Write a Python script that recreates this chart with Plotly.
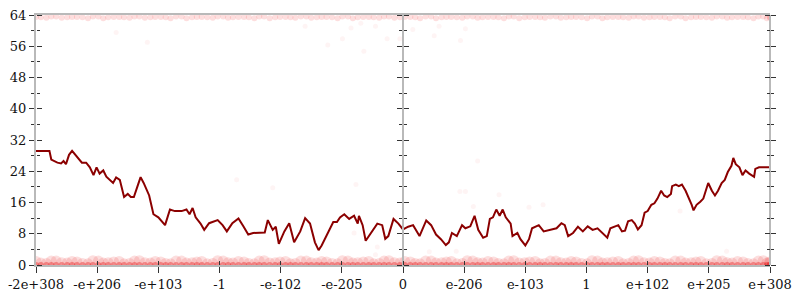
import plotly.graph_objects as go

# Tick positions (transformed scale) and labels
x_tickvals = [-6, -5, -4, -3, -2, -1, 0, 1, 2, 3, 4, 5, 6]
x_ticktext = ["-2e+308", "-e+206", "-e+103", "-1", "-e-102", "-e-205", "0",
              "e-206", "e-103", "1", "e+102", "e+205", "e+308"]
y_tickvals = [0, 8, 16, 24, 32, 40, 48, 56, 64]
y_minorvals = [4, 12, 20, 28, 36, 44, 52, 60]

# Main line (dark red)
line_x = [-6.0, -5.78, -5.75, -5.70, -5.65, -5.59, -5.55, -5.51, -5.46, -5.41, -5.36, -5.30,
          -5.25, -5.18, -5.12, -5.06, -5.01, -4.96, -4.90, -4.85, -4.74, -4.69, -4.63, -4.56,
          -4.50, -4.45, -4.40, -4.34, -4.29, -4.24, -4.15, -4.08, -4.0, -3.89, -3.81, -3.73,
          -3.62, -3.54, -3.49, -3.44, -3.39, -3.31, -3.25,
          -3.17, -3.03, -2.95, -2.88, -2.79, -2.69, -2.61, -2.53, -2.45, -2.26, -2.21, -2.13,
          -2.08, -2.03, -1.94, -1.86, -1.78, -1.68, -1.60, -1.52, -1.44, -1.38, -1.33, -1.22,
          -1.14, -1.08, -1.03, -0.96, -0.88, -0.80, -0.74, -0.72, -0.66, -0.61, -0.53, -0.42,
          -0.34, -0.29, -0.24, -0.155, -0.075, 0.0,
          0.085, 0.165, 0.27, 0.38, 0.46, 0.54, 0.62, 0.70, 0.75, 0.80, 0.88, 0.965, 1.02,
          1.10, 1.17, 1.23, 1.31, 1.37, 1.42, 1.47, 1.525, 1.58, 1.63, 1.68, 1.76, 1.79, 1.87,
          1.92, 2.0, 2.06, 2.11, 2.22, 2.30, 2.40, 2.51, 2.59, 2.645, 2.70, 2.78, 2.86, 2.94,
          3.02, 3.10, 3.18, 3.26, 3.34, 3.39, 3.47,
          3.52, 3.58, 3.63, 3.68, 3.74, 3.79, 3.84, 3.90, 3.95, 4.0, 4.06, 4.11, 4.16, 4.22,
          4.27, 4.32, 4.38, 4.40, 4.46, 4.51, 4.56, 4.62, 4.67, 4.72, 4.75, 4.80, 4.86, 4.91,
          4.99, 5.05, 5.10, 5.15, 5.21, 5.26, 5.31, 5.37, 5.40, 5.44, 5.50, 5.55, 5.60, 5.66,
          5.74, 5.76, 5.82, 6.0]
line_y = [29.2, 29.2, 27.0, 26.6, 26.2, 26.0, 26.6, 25.8, 28.2, 29.2, 28.2, 27.0,
          26.2, 26.2, 25.0, 23.0, 25.0, 23.4, 24.2, 22.6, 21.0, 22.4, 21.8, 17.4,
          18.2, 17.4, 17.4, 20.2, 22.5, 21.0, 17.8, 13.0, 12.2, 10.2, 14.2, 13.8,
          13.8, 14.2, 13.0, 14.6, 12.2, 10.6, 9.0,
          10.7, 11.5, 10.2, 8.6, 10.7, 11.9, 9.9, 7.8, 8.2, 8.3, 11.5, 9.0,
          9.8, 5.4, 8.6, 10.7, 5.8, 8.6, 12.0, 10.6, 5.8, 3.8, 5.0, 8.6,
          11.0, 11.0, 12.2, 13.0, 11.8, 12.6, 10.6, 12.6, 10.2, 6.2, 8.2, 10.6,
          10.2, 6.7, 7.4, 11.8, 10.6, 9.1,
          9.8, 10.2, 7.4, 11.4, 10.2, 7.8, 6.6, 5.1, 5.8, 8.2, 7.4, 10.2, 9.4,
          9.9, 12.6, 9.0, 7.0, 7.4, 11.8, 12.2, 14.2, 12.6, 14.2, 12.2, 10.6, 7.4, 8.2,
          6.6, 5.0, 6.6, 9.4, 10.2, 8.6, 9.0, 9.4, 10.7, 10.2, 7.4, 8.2, 9.8, 8.6,
          9.9, 9.0, 9.4, 8.2, 7.0, 9.4, 9.8,
          10.2, 8.6, 8.8, 11.2, 11.5, 10.6, 9.1, 10.2, 13.4, 13.8, 15.4, 15.8, 17.0, 19.0,
          17.8, 17.4, 18.2, 20.2, 20.6, 20.2, 20.6, 19.0, 17.4, 15.4, 14.0, 15.4, 16.2, 17.0,
          21.0, 19.0, 17.8, 19.0, 21.0, 21.8, 23.8, 25.4, 27.4, 25.8, 25.0, 23.0, 24.2, 23.4,
          22.6, 24.6, 25.0, 25.0]

# Dense bands of samples near the bottom (y ~ 0..1) and top (y ~ 63.5)
band_x_a = [-6.0, -5.83, -5.67, -5.49, -5.33, -5.15, -4.98, -4.82, -4.64, -4.47, -4.31, -4.13,
            -3.96, -3.8, -3.62, -3.45, -3.29, -3.11, -2.94, -2.78, -2.6, -2.43, -2.27, -2.09,
            -1.92, -1.76, -1.58, -1.41, -1.25, -1.07, -0.9, -0.74, -0.56, -0.39, -0.23, -0.05,
            0.12, 0.28, 0.46, 0.63, 0.79, 0.97, 1.14, 1.3, 1.48, 1.65, 1.81, 1.99, 2.16, 2.32,
            2.5, 2.67, 2.83, 3.01, 3.18, 3.34, 3.52, 3.69, 3.85, 4.03, 4.2, 4.36, 4.54, 4.71,
            4.87, 5.05, 5.22, 5.38, 5.56, 5.73, 5.89, 6.0]
band_x_b = [-5.92, -5.75, -5.58, -5.41, -5.24, -5.07, -4.9, -4.73, -4.56, -4.39, -4.22, -4.05,
            -3.88, -3.71, -3.54, -3.37, -3.2, -3.03, -2.86, -2.69, -2.52, -2.35, -2.18, -2.01,
            -1.84, -1.67, -1.5, -1.33, -1.16, -0.99, -0.82, -0.65, -0.48, -0.31, -0.14, 0.03,
            0.2, 0.37, 0.54, 0.71, 0.88, 1.05, 1.22, 1.39, 1.56, 1.73, 1.9, 2.07, 2.24, 2.41,
            2.58, 2.75, 2.92, 3.09, 3.26, 3.43, 3.6, 3.77, 3.94, 4.11, 4.28, 4.45, 4.62, 4.79,
            4.96, 5.13, 5.3, 5.47, 5.64, 5.81, 5.95, 5.99]
band_low_y_a = [0.9, 0.4, 1.0, 0.5, 0.8, 0.3, 1.0, 0.6, 0.9, 0.4, 1.1, 0.5,
                0.8, 0.3, 1.0, 0.6, 0.9, 0.4, 1.0, 0.5, 0.8, 0.3, 1.1, 0.6,
                0.9, 0.4, 1.0, 0.5, 0.8, 0.3, 1.0, 0.6, 0.9, 0.4, 1.1, 0.5,
                0.8, 0.3, 1.0, 0.6, 0.9, 0.4, 1.0, 0.5, 0.8, 0.3, 1.1, 0.6,
                0.9, 0.4, 1.0, 0.5, 0.8, 0.3, 1.0, 0.6, 0.9, 0.4, 1.1, 0.5,
                0.8, 0.3, 1.0, 0.6, 0.9, 0.4, 1.0, 0.5, 0.8, 0.3, 1.1, 0.6]
band_low_y_b = [0.5, 1.0, 0.6, 0.9, 0.4, 1.1, 0.5, 0.8, 0.3, 1.0, 0.6, 0.9,
                0.4, 1.0, 0.5, 0.8, 0.3, 1.1, 0.6, 0.9, 0.4, 1.0, 0.5, 0.8,
                0.3, 1.0, 0.6, 0.9, 0.4, 1.1, 0.5, 0.8, 0.3, 1.0, 0.6, 0.9,
                0.4, 1.0, 0.5, 0.8, 0.3, 1.1, 0.6, 0.9, 0.4, 1.0, 0.5, 0.8,
                0.3, 1.0, 0.6, 0.9, 0.4, 1.1, 0.5, 0.8, 0.3, 1.0, 0.6, 0.9,
                0.4, 1.0, 0.5, 0.8, 0.3, 1.1, 0.6, 0.9, 0.4, 1.0, 0.5, 0.8]
band_zero_y = [0.0] * 72
band_top_y_a = [63.5, 63.3, 63.6, 63.4, 63.5, 63.2, 63.6, 63.4, 63.5, 63.3, 63.6, 63.4,
                63.5, 63.2, 63.6, 63.4, 63.5, 63.3, 63.6, 63.4, 63.5, 63.2, 63.6, 63.4,
                63.5, 63.3, 63.6, 63.4, 63.5, 63.2, 63.6, 63.4, 63.5, 63.3, 63.6, 63.4,
                63.5, 63.2, 63.6, 63.4, 63.5, 63.3, 63.6, 63.4, 63.5, 63.2, 63.6, 63.4,
                63.5, 63.3, 63.6, 63.4, 63.5, 63.2, 63.6, 63.4, 63.5, 63.3, 63.6, 63.4,
                63.5, 63.2, 63.6, 63.4, 63.5, 63.3, 63.6, 63.4, 63.5, 63.2, 63.6, 63.4]
band_top_y_b = [63.4, 63.6, 63.3, 63.5, 63.4, 63.6, 63.2, 63.5, 63.4, 63.6, 63.3, 63.5,
                63.4, 63.6, 63.2, 63.5, 63.4, 63.6, 63.3, 63.5, 63.4, 63.6, 63.2, 63.5,
                63.4, 63.6, 63.3, 63.5, 63.4, 63.6, 63.2, 63.5, 63.4, 63.6, 63.3, 63.5,
                63.4, 63.6, 63.2, 63.5, 63.4, 63.6, 63.3, 63.5, 63.4, 63.6, 63.2, 63.5,
                63.4, 63.6, 63.3, 63.5, 63.4, 63.6, 63.2, 63.5, 63.4, 63.6, 63.3, 63.5,
                63.4, 63.6, 63.2, 63.5, 63.4, 63.6, 63.3, 63.5, 63.4, 63.6, 63.2, 63.5]

# Sparse faint samples
sparse_x = [-4.69, -4.18, -1.6, -0.99, -1.23, -0.64, -0.26, -0.05, 0.51, 0.94, -0.85, -0.69,
            -0.45, 0.16, 0.59, 1.02, -2.72, -2.13, -0.77, -0.8, -0.42, -0.45, 1.22, 0.93, 1.02,
            1.57, 1.15, 2.06, 2.29, 0.43, 0.87, 4.53, 5.29]
sparse_y = [59.5, 57.0, 61.1, 57.9, 56.3, 54.7, 57.9, 57.9, 58.7, 57.5, 60.7, 61.9,
            61.1, 60.3, 61.1, 60.5, 21.8, 19.8, 20.6, 8.2, 4.6, 2.6, 26.6, 18.8, 18.8,
            18.0, 15.0, 14.8, 15.4, 3.4, 3.5, 13.8, 3.5]

fig = go.Figure()

def dots(x, y, color, size, opacity):
    fig.add_trace(go.Scatter(x=x, y=y, mode="markers",
                             marker=dict(color=color, size=size, opacity=opacity, line=dict(width=0)),
                             hoverinfo="skip", showlegend=False))

dots(band_x_a, band_low_y_a, "rgb(240,60,60)", 11, 0.17)
dots(band_x_b, band_low_y_b, "rgb(240,60,60)", 11, 0.17)
dots(band_x_a, band_zero_y, "rgb(230,30,30)", 6, 0.4)
dots(band_x_b, band_zero_y, "rgb(230,30,30)", 6, 0.4)
dots(band_x_a, band_top_y_a, "rgb(240,50,50)", 6, 0.16)
dots(band_x_b, band_top_y_b, "rgb(240,50,50)", 6, 0.16)
dots(sparse_x, sparse_y, "rgb(235,60,60)", 5, 0.06)

fig.add_trace(go.Scatter(x=line_x, y=line_y, mode="lines",
                         line=dict(color="#8b0000", width=2),
                         hoverinfo="skip", showlegend=False))

# empty traces to instantiate the extra tick axes
for k in range(2, 7):
    fig.add_trace(go.Scatter(x=[], y=[], yaxis="y%d" % k, showlegend=False))
fig.add_trace(go.Scatter(x=[], y=[], xaxis="x2", showlegend=False))

font = dict(family="DejaVu Serif", size=13, color="#111")
gray = "#b9b9b9"
tickc = "#333"

def yax(**kw):
    d = dict(range=[0, 64], tickvals=y_tickvals, showgrid=False, zeroline=False,
             tickcolor=tickc, tickwidth=1, ticklen=5,
             minor=dict(tickvals=y_minorvals, ticklen=3, tickcolor=tickc, tickwidth=1, ticks="outside"),
             fixedrange=True)
    d.update(kw)
    return d

fig.update_layout(
    width=800, height=300,
    margin=dict(l=28, r=22, t=8, b=26),
    paper_bgcolor="white", plot_bgcolor="white",
    font=font,
    xaxis=dict(range=[-6, 6], tickvals=x_tickvals, ticktext=x_ticktext,
               ticks="outside", ticklen=6, tickwidth=1, tickcolor=tickc,
               showline=True, linecolor=gray, linewidth=2, mirror=True,
               showgrid=False, zeroline=False, tickfont=font, layer="below traces"),
    xaxis2=dict(range=[-6, 6], tickvals=x_tickvals, overlaying="x", anchor="y", side="bottom",
                ticks="inside", ticklen=4, tickwidth=1, tickcolor=tickc,
                showticklabels=False, showline=False, showgrid=False, zeroline=False),
    yaxis=yax(ticks="outside", showline=True, linecolor=gray, linewidth=2, side="left",
              tickfont=font, anchor="x"),
    yaxis2=yax(overlaying="y", anchor="free", position=0, side="right", ticks="outside",
               showticklabels=False, showline=False),
    yaxis3=yax(overlaying="y", anchor="free", position=0.5, side="left", ticks="outside",
               showticklabels=False, showline=True, linecolor=gray, linewidth=2),
    yaxis4=yax(overlaying="y", anchor="free", position=0.5, side="right", ticks="outside",
               showticklabels=False, showline=False),
    yaxis5=yax(overlaying="y", anchor="free", position=1, side="right", ticks="outside",
               showticklabels=False, showline=True, linecolor=gray, linewidth=2),
    yaxis6=yax(overlaying="y", anchor="free", position=1, side="left", ticks="outside",
               showticklabels=False, showline=False),
    showlegend=False,
)

fig.write_html("out.html")
